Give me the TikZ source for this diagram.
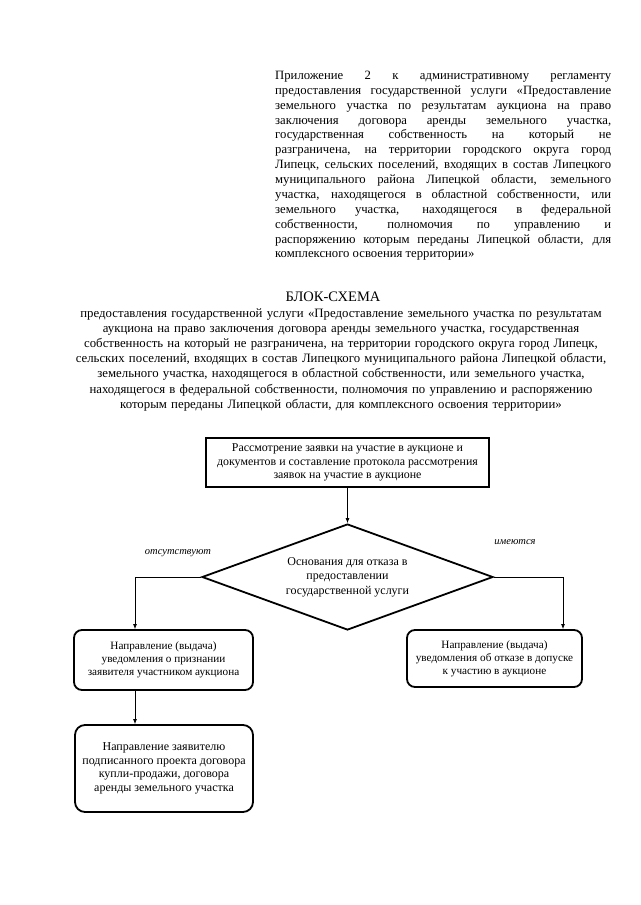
\documentclass[tikz,border=0pt]{standalone}
\usepackage{fontspec}
\setmainfont{Liberation Serif}
\usepackage{tikz}
\usetikzlibrary{arrows.meta,shapes}
\usetikzlibrary{positioning}
\usetikzlibrary{calc}
\tikzset{
    stepbox/.style={draw=black, line width=1.8pt, rectangle, align=center,
        font=\fontsize{11.9}{13.4}\selectfont, inner sep=0pt},
    roundbox/.style={stepbox, rounded corners=8pt, font=\fontsize{11.2}{13}\selectfont},
    decision/.style={draw=black, line width=1.8pt, diamond, aspect=2.75, align=center,
        font=\fontsize{12}{14.4}\selectfont, inner sep=0pt},
    flow/.style={draw=black, line width=0.8pt, -{Latex[length=5pt,width=4pt]}},
    flownoarrow/.style={draw=black, line width=0.8pt},
    answer/.style={font=\fontsize{10.5}{12}\selectfont\itshape},
}

\begin{document}
\begin{tikzpicture}[x=1pt, y=-1pt]
	\useasboundingbox (0,0) rectangle (640,905);
	% header texts
	\node[anchor=base west, text width=336pt, align=justify, inner sep=0pt,
		font=\fontsize{12.7}{14.87}\selectfont] (annex) at (275,79.5)
		{Приложение 2 к административному регламенту\linebreak
		предоставления государственной услуги «Предоставление\linebreak
		земельного участка по результатам аукциона на право\linebreak
		заключения договора аренды земельного участка,\linebreak
		государственная собственность на который не\linebreak
		разграничена, на территории городского округа город\linebreak
		Липецк, сельских поселений, входящих в состав Липецкого\linebreak
		муниципального района Липецкой области, земельного\linebreak
		участка, находящегося в областной собственности, или\linebreak
		земельного участка, находящегося в федеральной\linebreak
		собственности, полномочия по управлению и\linebreak
		распоряжению которым переданы Липецкой области, для\linebreak
		комплексного освоения территории»};
	\node[anchor=base, inner sep=0pt, font=\fontsize{14.5}{16}\selectfont] (title) at (333,301.5) {БЛОК-СХЕМА};
	\node[anchor=base, text width=560pt, align=center, inner sep=0pt, font=\fontsize{12.8}{15.2}\selectfont] (heading) at (341,317)
		{предоставления государственной услуги «Предоставление земельного участка по результатам\\
		аукциона на право заключения договора аренды земельного участка, государственная\\
		собственность на который не разграничена, на территории городского округа город Липецк,\\
		сельских поселений, входящих в состав Липецкого муниципального района Липецкой области,\\
		земельного участка, находящегося в областной собственности, или земельного участка,\\
		находящегося в федеральной собственности, полномочия по управлению и распоряжению\\
		которым переданы Липецкой области, для комплексного освоения территории»};
	% flow chart
	\node[stepbox, minimum width=283pt, minimum height=49pt] (review) at (347.5,462.5)
		{Рассмотрение заявки на участие в аукционе и\\
		документов и составление протокола рассмотрения\\
		заявок на участие в аукционе};
	\node[decision, minimum width=291pt, minimum height=106pt] (grounds) at (347.5,577)
		{Основания для отказа в\\ предоставлении\\ государственной услуги};
	\node[roundbox, minimum width=179pt, minimum height=60pt] (admit) at (163.5,660)
		{Направление (выдача)\\ уведомления о признании\\ заявителя участником аукциона};
	\node[roundbox, rounded corners=10pt, minimum width=178pt, minimum height=87pt,
		font=\fontsize{12}{13.7}\selectfont] (contract) at (164,768.5)
		{Направление заявителю\\ подписанного проекта договора\\ купли-продажи, договора\\ аренды земельного участка};
	\node[roundbox, minimum width=175pt, minimum height=57pt] (refuse) at (494.5,658.5)
		{Направление (выдача)\\ уведомления об отказе в допуске\\ к участию в аукционе};
	\coordinate (lturn) at (135,577);
	\coordinate (rturn) at (563,577);
	\draw[flow](review) -- (grounds);
	\draw[flownoarrow](grounds.west) -- (lturn);
	\draw[flow](lturn) -- (lturn |- admit.north);
	\draw[flownoarrow](grounds.east) -- (rturn);
	\draw[flow](rturn) -- (rturn |- refuse.north);
	\draw[flow](admit.south -| lturn) -- (contract.north -| lturn);
	\node[answer] (no) at (178,553) {отсутствуют};
	\node[answer] (yes) at (515,542) {имеются};
\end{tikzpicture}
\end{document}
